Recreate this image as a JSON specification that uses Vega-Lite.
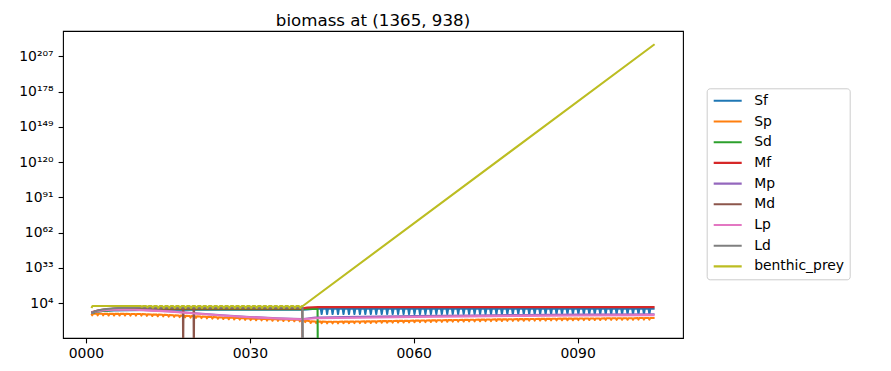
{
"$schema":"https://vega.github.io/schema/vega-lite/v6.json",
"width":620,"height":307,
"autosize":{"type":"none"},
"padding":{"left":63,"top":31,"right":208,"bottom":33},
"background":"white",
"title":{"text":"biomass at (1365, 938)","fontSize":16.67,"font":"DejaVu Sans","fontWeight":"normal","color":"black","anchor":"middle","baseline":"bottom","offset":3.5,"frame":"group","dy":19},
"config":{
"view":{"stroke":"black","strokeWidth":1.1},
"axis":{"domain":false,"grid":false,"tickColor":"black","tickWidth":1.1,"tickSize":4.9,"labelFont":"DejaVu Sans","labelFontSize":13.9,"labelColor":"black"},
"legend":{"labelFont":"DejaVu Sans","labelFontSize":13.9,"labelColor":"black"}
},
"data":{"values":[
{"t":1,"s":"Sf","v":1e-4},{"t":1.5,"s":"Sf","v":6e-4},{"t":2,"s":"Sf","v":1.5e-3},{"t":3,"s":"Sf","v":4e-3},{"t":5,"s":"Sf","v":8e-3},{"t":8,"s":"Sf","v":1.5e-2},{"t":12,"s":"Sf","v":2.5e-2},{"t":20,"s":"Sf","v":3e-2},{"t":39.5,"s":"Sf","v":3e-2},{"t":40.5,"s":"Sf","v":6e-2},{"t":41.5,"s":"Sf","v":0.15},{"t":42.5,"s":"Sf","v":0.2},
{"t":43,"s":"Sf","v":0.2},{"t":43.15,"s":"Sf","v":1e-5},{"t":43.3,"s":"Sf","v":0.2},
{"t":44,"s":"Sf","v":0.2},{"t":44.15,"s":"Sf","v":1e-5},{"t":44.3,"s":"Sf","v":0.2},
{"t":45,"s":"Sf","v":0.2},{"t":45.15,"s":"Sf","v":1e-5},{"t":45.3,"s":"Sf","v":0.2},
{"t":46,"s":"Sf","v":0.2},{"t":46.15,"s":"Sf","v":1e-5},{"t":46.3,"s":"Sf","v":0.2},
{"t":47,"s":"Sf","v":0.2},{"t":47.15,"s":"Sf","v":1e-5},{"t":47.3,"s":"Sf","v":0.2},
{"t":48,"s":"Sf","v":0.2},{"t":48.15,"s":"Sf","v":1e-5},{"t":48.3,"s":"Sf","v":0.2},
{"t":49,"s":"Sf","v":0.2},{"t":49.15,"s":"Sf","v":1e-5},{"t":49.3,"s":"Sf","v":0.2},
{"t":50,"s":"Sf","v":0.2},{"t":50.15,"s":"Sf","v":1e-5},{"t":50.3,"s":"Sf","v":0.2},
{"t":51,"s":"Sf","v":0.2},{"t":51.15,"s":"Sf","v":1e-5},{"t":51.3,"s":"Sf","v":0.2},
{"t":52,"s":"Sf","v":0.2},{"t":52.15,"s":"Sf","v":1e-5},{"t":52.3,"s":"Sf","v":0.2},
{"t":53,"s":"Sf","v":0.2},{"t":53.15,"s":"Sf","v":1e-5},{"t":53.3,"s":"Sf","v":0.2},
{"t":54,"s":"Sf","v":0.2},{"t":54.15,"s":"Sf","v":1e-5},{"t":54.3,"s":"Sf","v":0.2},
{"t":55,"s":"Sf","v":0.2},{"t":55.15,"s":"Sf","v":1e-5},{"t":55.3,"s":"Sf","v":0.2},
{"t":56,"s":"Sf","v":0.2},{"t":56.15,"s":"Sf","v":1e-5},{"t":56.3,"s":"Sf","v":0.2},
{"t":57,"s":"Sf","v":0.2},{"t":57.15,"s":"Sf","v":1e-5},{"t":57.3,"s":"Sf","v":0.2},
{"t":58,"s":"Sf","v":0.2},{"t":58.15,"s":"Sf","v":1e-5},{"t":58.3,"s":"Sf","v":0.2},
{"t":59,"s":"Sf","v":0.2},{"t":59.15,"s":"Sf","v":1e-5},{"t":59.3,"s":"Sf","v":0.2},
{"t":60,"s":"Sf","v":0.2},{"t":60.15,"s":"Sf","v":1e-5},{"t":60.3,"s":"Sf","v":0.2},
{"t":61,"s":"Sf","v":0.2},{"t":61.15,"s":"Sf","v":1e-5},{"t":61.3,"s":"Sf","v":0.2},
{"t":62,"s":"Sf","v":0.2},{"t":62.15,"s":"Sf","v":1e-5},{"t":62.3,"s":"Sf","v":0.2},
{"t":63,"s":"Sf","v":0.2},{"t":63.15,"s":"Sf","v":1e-5},{"t":63.3,"s":"Sf","v":0.2},
{"t":64,"s":"Sf","v":0.2},{"t":64.15,"s":"Sf","v":1e-5},{"t":64.3,"s":"Sf","v":0.2},
{"t":65,"s":"Sf","v":0.2},{"t":65.15,"s":"Sf","v":1e-5},{"t":65.3,"s":"Sf","v":0.2},
{"t":66,"s":"Sf","v":0.2},{"t":66.15,"s":"Sf","v":1e-5},{"t":66.3,"s":"Sf","v":0.2},
{"t":67,"s":"Sf","v":0.2},{"t":67.15,"s":"Sf","v":1e-5},{"t":67.3,"s":"Sf","v":0.2},
{"t":68,"s":"Sf","v":0.2},{"t":68.15,"s":"Sf","v":1e-5},{"t":68.3,"s":"Sf","v":0.2},
{"t":69,"s":"Sf","v":0.2},{"t":69.15,"s":"Sf","v":1e-5},{"t":69.3,"s":"Sf","v":0.2},
{"t":70,"s":"Sf","v":0.2},{"t":70.15,"s":"Sf","v":1e-5},{"t":70.3,"s":"Sf","v":0.2},
{"t":71,"s":"Sf","v":0.2},{"t":71.15,"s":"Sf","v":1e-5},{"t":71.3,"s":"Sf","v":0.2},
{"t":72,"s":"Sf","v":0.2},{"t":72.15,"s":"Sf","v":1e-5},{"t":72.3,"s":"Sf","v":0.2},
{"t":73,"s":"Sf","v":0.2},{"t":73.15,"s":"Sf","v":1e-5},{"t":73.3,"s":"Sf","v":0.2},
{"t":74,"s":"Sf","v":0.2},{"t":74.15,"s":"Sf","v":1e-5},{"t":74.3,"s":"Sf","v":0.2},
{"t":75,"s":"Sf","v":0.2},{"t":75.15,"s":"Sf","v":1e-5},{"t":75.3,"s":"Sf","v":0.2},
{"t":76,"s":"Sf","v":0.2},{"t":76.15,"s":"Sf","v":1e-5},{"t":76.3,"s":"Sf","v":0.2},
{"t":77,"s":"Sf","v":0.2},{"t":77.15,"s":"Sf","v":1e-5},{"t":77.3,"s":"Sf","v":0.2},
{"t":78,"s":"Sf","v":0.2},{"t":78.15,"s":"Sf","v":1e-5},{"t":78.3,"s":"Sf","v":0.2},
{"t":79,"s":"Sf","v":0.2},{"t":79.15,"s":"Sf","v":1e-5},{"t":79.3,"s":"Sf","v":0.2},
{"t":80,"s":"Sf","v":0.2},{"t":80.15,"s":"Sf","v":1e-5},{"t":80.3,"s":"Sf","v":0.2},
{"t":81,"s":"Sf","v":0.2},{"t":81.15,"s":"Sf","v":1e-5},{"t":81.3,"s":"Sf","v":0.2},
{"t":82,"s":"Sf","v":0.2},{"t":82.15,"s":"Sf","v":1e-5},{"t":82.3,"s":"Sf","v":0.2},
{"t":83,"s":"Sf","v":0.2},{"t":83.15,"s":"Sf","v":1e-5},{"t":83.3,"s":"Sf","v":0.2},
{"t":84,"s":"Sf","v":0.2},{"t":84.15,"s":"Sf","v":1e-5},{"t":84.3,"s":"Sf","v":0.2},
{"t":85,"s":"Sf","v":0.2},{"t":85.15,"s":"Sf","v":1e-5},{"t":85.3,"s":"Sf","v":0.2},
{"t":86,"s":"Sf","v":0.2},{"t":86.15,"s":"Sf","v":1e-5},{"t":86.3,"s":"Sf","v":0.2},
{"t":87,"s":"Sf","v":0.2},{"t":87.15,"s":"Sf","v":1e-5},{"t":87.3,"s":"Sf","v":0.2},
{"t":88,"s":"Sf","v":0.2},{"t":88.15,"s":"Sf","v":1e-5},{"t":88.3,"s":"Sf","v":0.2},
{"t":89,"s":"Sf","v":0.2},{"t":89.15,"s":"Sf","v":1e-5},{"t":89.3,"s":"Sf","v":0.2},
{"t":90,"s":"Sf","v":0.2},{"t":90.15,"s":"Sf","v":1e-5},{"t":90.3,"s":"Sf","v":0.2},
{"t":91,"s":"Sf","v":0.2},{"t":91.15,"s":"Sf","v":1e-5},{"t":91.3,"s":"Sf","v":0.2},
{"t":92,"s":"Sf","v":0.2},{"t":92.15,"s":"Sf","v":1e-5},{"t":92.3,"s":"Sf","v":0.2},
{"t":93,"s":"Sf","v":0.2},{"t":93.15,"s":"Sf","v":1e-5},{"t":93.3,"s":"Sf","v":0.2},
{"t":94,"s":"Sf","v":0.2},{"t":94.15,"s":"Sf","v":1e-5},{"t":94.3,"s":"Sf","v":0.2},
{"t":95,"s":"Sf","v":0.2},{"t":95.15,"s":"Sf","v":1e-5},{"t":95.3,"s":"Sf","v":0.2},
{"t":96,"s":"Sf","v":0.2},{"t":96.15,"s":"Sf","v":1e-5},{"t":96.3,"s":"Sf","v":0.2},
{"t":97,"s":"Sf","v":0.2},{"t":97.15,"s":"Sf","v":1e-5},{"t":97.3,"s":"Sf","v":0.2},
{"t":98,"s":"Sf","v":0.2},{"t":98.15,"s":"Sf","v":1e-5},{"t":98.3,"s":"Sf","v":0.2},
{"t":99,"s":"Sf","v":0.2},{"t":99.15,"s":"Sf","v":1e-5},{"t":99.3,"s":"Sf","v":0.2},
{"t":100,"s":"Sf","v":0.2},{"t":100.15,"s":"Sf","v":1e-5},{"t":100.3,"s":"Sf","v":0.2},
{"t":101,"s":"Sf","v":0.2},{"t":101.15,"s":"Sf","v":1e-5},{"t":101.3,"s":"Sf","v":0.2},
{"t":102,"s":"Sf","v":0.2},{"t":102.15,"s":"Sf","v":1e-5},{"t":102.3,"s":"Sf","v":0.2},
{"t":103,"s":"Sf","v":0.2},{"t":103.15,"s":"Sf","v":1e-5},{"t":103.3,"s":"Sf","v":0.2},
{"t":104.1,"s":"Sf","v":0.2},

{"t":1,"s":"Sp","v":1.6e-5},{"t":1.15,"s":"Sp","v":7.9e-7},{"t":1.3,"s":"Sp","v":1.6e-5},
{"t":2,"s":"Sp","v":1.6e-5},{"t":2.15,"s":"Sp","v":7.9e-7},{"t":2.3,"s":"Sp","v":1.6e-5},
{"t":3,"s":"Sp","v":1.6e-5},{"t":3.15,"s":"Sp","v":7.9e-7},{"t":3.3,"s":"Sp","v":1.6e-5},
{"t":4,"s":"Sp","v":1.3e-5},{"t":4.15,"s":"Sp","v":6.3e-7},{"t":4.3,"s":"Sp","v":1.3e-5},
{"t":5,"s":"Sp","v":1.3e-5},{"t":5.15,"s":"Sp","v":6.3e-7},{"t":5.3,"s":"Sp","v":1.3e-5},
{"t":6,"s":"Sp","v":1.3e-5},{"t":6.15,"s":"Sp","v":6.3e-7},{"t":6.3,"s":"Sp","v":1.3e-5},
{"t":7,"s":"Sp","v":1.3e-5},{"t":7.15,"s":"Sp","v":6.3e-7},{"t":7.3,"s":"Sp","v":1.3e-5},
{"t":8,"s":"Sp","v":1e-5},{"t":8.15,"s":"Sp","v":5e-7},{"t":8.3,"s":"Sp","v":1e-5},
{"t":9,"s":"Sp","v":1e-5},{"t":9.15,"s":"Sp","v":5e-7},{"t":9.3,"s":"Sp","v":1e-5},
{"t":10,"s":"Sp","v":1e-5},{"t":10.15,"s":"Sp","v":5e-7},{"t":10.3,"s":"Sp","v":1e-5},
{"t":11,"s":"Sp","v":6.3e-6},{"t":11.15,"s":"Sp","v":3.2e-7},{"t":11.3,"s":"Sp","v":6.3e-6},
{"t":12,"s":"Sp","v":5e-6},{"t":12.15,"s":"Sp","v":2.5e-7},{"t":12.3,"s":"Sp","v":5e-6},
{"t":13,"s":"Sp","v":3.2e-6},{"t":13.15,"s":"Sp","v":1.6e-7},{"t":13.3,"s":"Sp","v":3.2e-6},
{"t":14,"s":"Sp","v":2.5e-6},{"t":14.15,"s":"Sp","v":1.3e-7},{"t":14.3,"s":"Sp","v":2.5e-6},
{"t":15,"s":"Sp","v":1.6e-6},{"t":15.15,"s":"Sp","v":7.9e-8},{"t":15.3,"s":"Sp","v":1.6e-6},
{"t":16,"s":"Sp","v":1e-6},{"t":16.15,"s":"Sp","v":5e-8},{"t":16.3,"s":"Sp","v":1e-6},
{"t":17,"s":"Sp","v":6.3e-7},{"t":17.15,"s":"Sp","v":3.2e-8},{"t":17.3,"s":"Sp","v":6.3e-7},
{"t":18,"s":"Sp","v":4e-7},{"t":18.15,"s":"Sp","v":2e-8},{"t":18.3,"s":"Sp","v":4e-7},
{"t":19,"s":"Sp","v":2.5e-7},{"t":19.15,"s":"Sp","v":1.3e-8},{"t":19.3,"s":"Sp","v":2.5e-7},
{"t":20,"s":"Sp","v":1.6e-7},{"t":20.15,"s":"Sp","v":7.9e-9},{"t":20.3,"s":"Sp","v":1.6e-7},
{"t":21,"s":"Sp","v":1e-7},{"t":21.15,"s":"Sp","v":5e-9},{"t":21.3,"s":"Sp","v":1e-7},
{"t":22,"s":"Sp","v":6.3e-8},{"t":22.15,"s":"Sp","v":3.2e-9},{"t":22.3,"s":"Sp","v":6.3e-8},
{"t":23,"s":"Sp","v":4e-8},{"t":23.15,"s":"Sp","v":2e-9},{"t":23.3,"s":"Sp","v":4e-8},
{"t":24,"s":"Sp","v":2.5e-8},{"t":24.15,"s":"Sp","v":1.3e-9},{"t":24.3,"s":"Sp","v":2.5e-8},
{"t":25,"s":"Sp","v":1.6e-8},{"t":25.15,"s":"Sp","v":7.9e-10},{"t":25.3,"s":"Sp","v":1.6e-8},
{"t":26,"s":"Sp","v":1e-8},{"t":26.15,"s":"Sp","v":5e-10},{"t":26.3,"s":"Sp","v":1e-8},
{"t":27,"s":"Sp","v":7.9e-9},{"t":27.15,"s":"Sp","v":4e-10},{"t":27.3,"s":"Sp","v":7.9e-9},
{"t":28,"s":"Sp","v":5e-9},{"t":28.15,"s":"Sp","v":2.5e-10},{"t":28.3,"s":"Sp","v":5e-9},
{"t":29,"s":"Sp","v":3.2e-9},{"t":29.15,"s":"Sp","v":1.6e-10},{"t":29.3,"s":"Sp","v":3.2e-9},
{"t":30,"s":"Sp","v":2e-9},{"t":30.15,"s":"Sp","v":1e-10},{"t":30.3,"s":"Sp","v":2e-9},
{"t":31,"s":"Sp","v":1.6e-9},{"t":31.15,"s":"Sp","v":7.9e-11},{"t":31.3,"s":"Sp","v":1.6e-9},
{"t":32,"s":"Sp","v":1.3e-9},{"t":32.15,"s":"Sp","v":6.3e-11},{"t":32.3,"s":"Sp","v":1.3e-9},
{"t":33,"s":"Sp","v":7.9e-10},{"t":33.15,"s":"Sp","v":4e-11},{"t":33.3,"s":"Sp","v":7.9e-10},
{"t":34,"s":"Sp","v":6.3e-10},{"t":34.15,"s":"Sp","v":3.2e-11},{"t":34.3,"s":"Sp","v":6.3e-10},
{"t":35,"s":"Sp","v":5e-10},{"t":35.15,"s":"Sp","v":2.5e-11},{"t":35.3,"s":"Sp","v":5e-10},
{"t":36,"s":"Sp","v":4e-10},{"t":36.15,"s":"Sp","v":2e-11},{"t":36.3,"s":"Sp","v":4e-10},
{"t":37,"s":"Sp","v":3.2e-10},{"t":37.15,"s":"Sp","v":1.6e-11},{"t":37.3,"s":"Sp","v":3.2e-10},
{"t":38,"s":"Sp","v":2.5e-10},{"t":38.15,"s":"Sp","v":1.3e-11},{"t":38.3,"s":"Sp","v":2.5e-10},
{"t":39,"s":"Sp","v":2e-10},{"t":39.15,"s":"Sp","v":1e-11},{"t":39.3,"s":"Sp","v":2e-10},
{"t":40,"s":"Sp","v":5e-11},{"t":40.15,"s":"Sp","v":2.5e-12},{"t":40.3,"s":"Sp","v":5e-11},
{"t":41,"s":"Sp","v":1e-11},{"t":41.15,"s":"Sp","v":5e-13},{"t":41.3,"s":"Sp","v":1e-11},
{"t":42,"s":"Sp","v":7.9e-12},{"t":42.15,"s":"Sp","v":4e-13},{"t":42.3,"s":"Sp","v":7.9e-12},
{"t":43,"s":"Sp","v":6.3e-12},{"t":43.15,"s":"Sp","v":3.2e-13},{"t":43.3,"s":"Sp","v":6.3e-12},
{"t":44,"s":"Sp","v":5e-12},{"t":44.15,"s":"Sp","v":2.5e-13},{"t":44.3,"s":"Sp","v":5e-12},
{"t":45,"s":"Sp","v":5e-12},{"t":45.15,"s":"Sp","v":2.5e-13},{"t":45.3,"s":"Sp","v":5e-12},
{"t":46,"s":"Sp","v":5e-12},{"t":46.15,"s":"Sp","v":2.5e-13},{"t":46.3,"s":"Sp","v":5e-12},
{"t":47,"s":"Sp","v":6.3e-12},{"t":47.15,"s":"Sp","v":3.2e-13},{"t":47.3,"s":"Sp","v":6.3e-12},
{"t":48,"s":"Sp","v":6.3e-12},{"t":48.15,"s":"Sp","v":3.2e-13},{"t":48.3,"s":"Sp","v":6.3e-12},
{"t":49,"s":"Sp","v":7.9e-12},{"t":49.15,"s":"Sp","v":4e-13},{"t":49.3,"s":"Sp","v":7.9e-12},
{"t":50,"s":"Sp","v":7.9e-12},{"t":50.15,"s":"Sp","v":4e-13},{"t":50.3,"s":"Sp","v":7.9e-12},
{"t":51,"s":"Sp","v":1e-11},{"t":51.15,"s":"Sp","v":5e-13},{"t":51.3,"s":"Sp","v":1e-11},
{"t":52,"s":"Sp","v":1e-11},{"t":52.15,"s":"Sp","v":5e-13},{"t":52.3,"s":"Sp","v":1e-11},
{"t":53,"s":"Sp","v":1.3e-11},{"t":53.15,"s":"Sp","v":6.3e-13},{"t":53.3,"s":"Sp","v":1.3e-11},
{"t":54,"s":"Sp","v":1.6e-11},{"t":54.15,"s":"Sp","v":7.9e-13},{"t":54.3,"s":"Sp","v":1.6e-11},
{"t":55,"s":"Sp","v":1.6e-11},{"t":55.15,"s":"Sp","v":7.9e-13},{"t":55.3,"s":"Sp","v":1.6e-11},
{"t":56,"s":"Sp","v":2e-11},{"t":56.15,"s":"Sp","v":1e-12},{"t":56.3,"s":"Sp","v":2e-11},
{"t":57,"s":"Sp","v":2.5e-11},{"t":57.15,"s":"Sp","v":1.3e-12},{"t":57.3,"s":"Sp","v":2.5e-11},
{"t":58,"s":"Sp","v":2.5e-11},{"t":58.15,"s":"Sp","v":1.3e-12},{"t":58.3,"s":"Sp","v":2.5e-11},
{"t":59,"s":"Sp","v":3.2e-11},{"t":59.15,"s":"Sp","v":1.6e-12},{"t":59.3,"s":"Sp","v":3.2e-11},
{"t":60,"s":"Sp","v":4e-11},{"t":60.15,"s":"Sp","v":2e-12},{"t":60.3,"s":"Sp","v":4e-11},
{"t":61,"s":"Sp","v":5e-11},{"t":61.15,"s":"Sp","v":2.5e-12},{"t":61.3,"s":"Sp","v":5e-11},
{"t":62,"s":"Sp","v":5e-11},{"t":62.15,"s":"Sp","v":2.5e-12},{"t":62.3,"s":"Sp","v":5e-11},
{"t":63,"s":"Sp","v":6.3e-11},{"t":63.15,"s":"Sp","v":3.2e-12},{"t":63.3,"s":"Sp","v":6.3e-11},
{"t":64,"s":"Sp","v":7.9e-11},{"t":64.15,"s":"Sp","v":4e-12},{"t":64.3,"s":"Sp","v":7.9e-11},
{"t":65,"s":"Sp","v":7.9e-11},{"t":65.15,"s":"Sp","v":4e-12},{"t":65.3,"s":"Sp","v":7.9e-11},
{"t":66,"s":"Sp","v":1e-10},{"t":66.15,"s":"Sp","v":5e-12},{"t":66.3,"s":"Sp","v":1e-10},
{"t":67,"s":"Sp","v":1.3e-10},{"t":67.15,"s":"Sp","v":6.3e-12},{"t":67.3,"s":"Sp","v":1.3e-10},
{"t":68,"s":"Sp","v":1.3e-10},{"t":68.15,"s":"Sp","v":6.3e-12},{"t":68.3,"s":"Sp","v":1.3e-10},
{"t":69,"s":"Sp","v":1.6e-10},{"t":69.15,"s":"Sp","v":7.9e-12},{"t":69.3,"s":"Sp","v":1.6e-10},
{"t":70,"s":"Sp","v":2e-10},{"t":70.15,"s":"Sp","v":1e-11},{"t":70.3,"s":"Sp","v":2e-10},
{"t":71,"s":"Sp","v":2e-10},{"t":71.15,"s":"Sp","v":1e-11},{"t":71.3,"s":"Sp","v":2e-10},
{"t":72,"s":"Sp","v":2.5e-10},{"t":72.15,"s":"Sp","v":1.3e-11},{"t":72.3,"s":"Sp","v":2.5e-10},
{"t":73,"s":"Sp","v":3.2e-10},{"t":73.15,"s":"Sp","v":1.6e-11},{"t":73.3,"s":"Sp","v":3.2e-10},
{"t":74,"s":"Sp","v":3.2e-10},{"t":74.15,"s":"Sp","v":1.6e-11},{"t":74.3,"s":"Sp","v":3.2e-10},
{"t":75,"s":"Sp","v":4e-10},{"t":75.15,"s":"Sp","v":2e-11},{"t":75.3,"s":"Sp","v":4e-10},
{"t":76,"s":"Sp","v":4e-10},{"t":76.15,"s":"Sp","v":2e-11},{"t":76.3,"s":"Sp","v":4e-10},
{"t":77,"s":"Sp","v":5e-10},{"t":77.15,"s":"Sp","v":2.5e-11},{"t":77.3,"s":"Sp","v":5e-10},
{"t":78,"s":"Sp","v":5e-10},{"t":78.15,"s":"Sp","v":2.5e-11},{"t":78.3,"s":"Sp","v":5e-10},
{"t":79,"s":"Sp","v":6.3e-10},{"t":79.15,"s":"Sp","v":3.2e-11},{"t":79.3,"s":"Sp","v":6.3e-10},
{"t":80,"s":"Sp","v":6.3e-10},{"t":80.15,"s":"Sp","v":3.2e-11},{"t":80.3,"s":"Sp","v":6.3e-10},
{"t":81,"s":"Sp","v":7.9e-10},{"t":81.15,"s":"Sp","v":4e-11},{"t":81.3,"s":"Sp","v":7.9e-10},
{"t":82,"s":"Sp","v":7.9e-10},{"t":82.15,"s":"Sp","v":4e-11},{"t":82.3,"s":"Sp","v":7.9e-10},
{"t":83,"s":"Sp","v":1e-9},{"t":83.15,"s":"Sp","v":5e-11},{"t":83.3,"s":"Sp","v":1e-9},
{"t":84,"s":"Sp","v":1e-9},{"t":84.15,"s":"Sp","v":5e-11},{"t":84.3,"s":"Sp","v":1e-9},
{"t":85,"s":"Sp","v":1.3e-9},{"t":85.15,"s":"Sp","v":6.3e-11},{"t":85.3,"s":"Sp","v":1.3e-9},
{"t":86,"s":"Sp","v":1.3e-9},{"t":86.15,"s":"Sp","v":6.3e-11},{"t":86.3,"s":"Sp","v":1.3e-9},
{"t":87,"s":"Sp","v":1.6e-9},{"t":87.15,"s":"Sp","v":7.9e-11},{"t":87.3,"s":"Sp","v":1.6e-9},
{"t":88,"s":"Sp","v":1.6e-9},{"t":88.15,"s":"Sp","v":7.9e-11},{"t":88.3,"s":"Sp","v":1.6e-9},
{"t":89,"s":"Sp","v":1.6e-9},{"t":89.15,"s":"Sp","v":7.9e-11},{"t":89.3,"s":"Sp","v":1.6e-9},
{"t":90,"s":"Sp","v":2e-9},{"t":90.15,"s":"Sp","v":1e-10},{"t":90.3,"s":"Sp","v":2e-9},
{"t":91,"s":"Sp","v":2e-9},{"t":91.15,"s":"Sp","v":1e-10},{"t":91.3,"s":"Sp","v":2e-9},
{"t":92,"s":"Sp","v":2.5e-9},{"t":92.15,"s":"Sp","v":1.3e-10},{"t":92.3,"s":"Sp","v":2.5e-9},
{"t":93,"s":"Sp","v":2.5e-9},{"t":93.15,"s":"Sp","v":1.3e-10},{"t":93.3,"s":"Sp","v":2.5e-9},
{"t":94,"s":"Sp","v":2.5e-9},{"t":94.15,"s":"Sp","v":1.3e-10},{"t":94.3,"s":"Sp","v":2.5e-9},
{"t":95,"s":"Sp","v":3.2e-9},{"t":95.15,"s":"Sp","v":1.6e-10},{"t":95.3,"s":"Sp","v":3.2e-9},
{"t":96,"s":"Sp","v":3.2e-9},{"t":96.15,"s":"Sp","v":1.6e-10},{"t":96.3,"s":"Sp","v":3.2e-9},
{"t":97,"s":"Sp","v":3.2e-9},{"t":97.15,"s":"Sp","v":1.6e-10},{"t":97.3,"s":"Sp","v":3.2e-9},
{"t":98,"s":"Sp","v":4e-9},{"t":98.15,"s":"Sp","v":2e-10},{"t":98.3,"s":"Sp","v":4e-9},
{"t":99,"s":"Sp","v":4e-9},{"t":99.15,"s":"Sp","v":2e-10},{"t":99.3,"s":"Sp","v":4e-9},
{"t":100,"s":"Sp","v":4e-9},{"t":100.15,"s":"Sp","v":2e-10},{"t":100.3,"s":"Sp","v":4e-9},
{"t":101,"s":"Sp","v":5e-9},{"t":101.15,"s":"Sp","v":2.5e-10},{"t":101.3,"s":"Sp","v":5e-9},
{"t":102,"s":"Sp","v":5e-9},{"t":102.15,"s":"Sp","v":2.5e-10},{"t":102.3,"s":"Sp","v":5e-9},
{"t":103,"s":"Sp","v":5e-9},{"t":103.15,"s":"Sp","v":2.5e-10},{"t":103.3,"s":"Sp","v":5e-9},
{"t":104,"s":"Sp","v":6.3e-9},{"t":104.1,"s":"Sp","v":6.3e-9},

{"t":1,"s":"Sd","v":4e-5},{"t":2,"s":"Sd","v":8e-4},{"t":3,"s":"Sd","v":4e-3},{"t":5,"s":"Sd","v":2e-2},{"t":8,"s":"Sd","v":6e-2},{"t":12,"s":"Sd","v":0.1},{"t":39.5,"s":"Sd","v":0.1},{"t":40.5,"s":"Sd","v":0.13},{"t":42.4,"s":"Sd","v":0.13},{"t":42.45,"s":"Sd","v":1e-40},{"t":104.1,"s":"Sd","v":1e-40},

{"t":1,"s":"Mf","v":3e-4},{"t":2,"s":"Mf","v":5e-3},{"t":3,"s":"Mf","v":3e-2},{"t":5,"s":"Mf","v":0.15},{"t":8,"s":"Mf","v":0.3},{"t":12,"s":"Mf","v":0.35},{"t":39.5,"s":"Mf","v":0.35},{"t":40.5,"s":"Mf","v":2},{"t":41.5,"s":"Mf","v":4},{"t":42.5,"s":"Mf","v":5},{"t":104.1,"s":"Mf","v":5},

{"t":1,"s":"Mp","v":1.3e-4},{"t":2,"s":"Mp","v":2.5e-3},{"t":3,"s":"Mp","v":1.6e-2},{"t":4,"s":"Mp","v":4e-2},{"t":6,"s":"Mp","v":7.9e-2},{"t":9,"s":"Mp","v":5e-2},{"t":12,"s":"Mp","v":1e-2},{"t":15,"s":"Mp","v":2.5e-3},{"t":20,"s":"Mp","v":4e-5},{"t":25,"s":"Mp","v":1e-6},{"t":30,"s":"Mp","v":4e-8},{"t":35,"s":"Mp","v":4e-9},{"t":39.5,"s":"Mp","v":6.3e-10},{"t":40.5,"s":"Mp","v":2.5e-9},{"t":42,"s":"Mp","v":1.6e-8},{"t":50,"s":"Mp","v":5e-8},{"t":60,"s":"Mp","v":2e-7},{"t":70,"s":"Mp","v":6.3e-7},{"t":80,"s":"Mp","v":1.6e-6},{"t":90,"s":"Mp","v":3.2e-6},{"t":104.1,"s":"Mp","v":6.3e-6},

{"t":1,"s":"Md","v":1e-4},{"t":2,"s":"Md","v":3e-3},{"t":3,"s":"Md","v":2e-2},{"t":5,"s":"Md","v":0.2},{"t":8,"s":"Md","v":0.8},{"t":17.75,"s":"Md","v":1},{"t":17.8,"s":"Md","v":1e-40},{"t":17.85,"s":"Md","v":1},{"t":19.7,"s":"Md","v":1},{"t":19.75,"s":"Md","v":1e-40},{"t":19.8,"s":"Md","v":1},{"t":39.6,"s":"Md","v":1},{"t":39.65,"s":"Md","v":1e-40},{"t":104.1,"s":"Md","v":1e-40},

{"t":1,"s":"Lp","v":1e-4},{"t":2,"s":"Lp","v":1.6e-3},{"t":3,"s":"Lp","v":1e-2},{"t":4,"s":"Lp","v":2.5e-2},{"t":6,"s":"Lp","v":5e-2},{"t":9,"s":"Lp","v":3.2e-2},{"t":12,"s":"Lp","v":6.3e-3},{"t":15,"s":"Lp","v":1.6e-3},{"t":20,"s":"Lp","v":2.5e-5},{"t":25,"s":"Lp","v":6.3e-7},{"t":30,"s":"Lp","v":2.5e-8},{"t":35,"s":"Lp","v":2.5e-9},{"t":39.5,"s":"Lp","v":4e-10},{"t":40.5,"s":"Lp","v":1e-9},{"t":42,"s":"Lp","v":3.2e-9},{"t":50,"s":"Lp","v":1e-8},{"t":60,"s":"Lp","v":4e-8},{"t":70,"s":"Lp","v":1.3e-7},{"t":80,"s":"Lp","v":3.2e-7},{"t":90,"s":"Lp","v":6.3e-7},{"t":104.1,"s":"Lp","v":1.3e-6},

{"t":1,"s":"Ld","v":6.3e-5},{"t":2,"s":"Ld","v":5e-3},{"t":3,"s":"Ld","v":5e-2},{"t":5,"s":"Ld","v":0.5},{"t":7,"s":"Ld","v":1.6},{"t":10,"s":"Ld","v":2.5},{"t":39.65,"s":"Ld","v":2.5},{"t":39.7,"s":"Ld","v":1e-40},{"t":104.1,"s":"Ld","v":1e-40},

{"t":1,"s":"benthic_prey","v":0.8},{"t":1.2,"s":"benthic_prey","v":40},
{"t":10,"s":"benthic_prey","v":40},{"t":10.25,"s":"benthic_prey","v":10},{"t":10.5,"s":"benthic_prey","v":40},
{"t":11,"s":"benthic_prey","v":40},{"t":11.25,"s":"benthic_prey","v":5},{"t":11.5,"s":"benthic_prey","v":40},
{"t":12,"s":"benthic_prey","v":40},{"t":12.25,"s":"benthic_prey","v":2},{"t":12.5,"s":"benthic_prey","v":40},
{"t":13,"s":"benthic_prey","v":40},{"t":13.25,"s":"benthic_prey","v":1},{"t":13.5,"s":"benthic_prey","v":40},
{"t":14,"s":"benthic_prey","v":40},{"t":14.25,"s":"benthic_prey","v":1},{"t":14.5,"s":"benthic_prey","v":40},
{"t":15,"s":"benthic_prey","v":40},{"t":15.25,"s":"benthic_prey","v":1},{"t":15.5,"s":"benthic_prey","v":40},
{"t":16,"s":"benthic_prey","v":40},{"t":16.25,"s":"benthic_prey","v":1},{"t":16.5,"s":"benthic_prey","v":40},
{"t":17,"s":"benthic_prey","v":40},{"t":17.25,"s":"benthic_prey","v":1},{"t":17.5,"s":"benthic_prey","v":40},
{"t":18,"s":"benthic_prey","v":40},{"t":18.25,"s":"benthic_prey","v":1},{"t":18.5,"s":"benthic_prey","v":40},
{"t":19,"s":"benthic_prey","v":40},{"t":19.25,"s":"benthic_prey","v":1},{"t":19.5,"s":"benthic_prey","v":40},
{"t":20,"s":"benthic_prey","v":40},{"t":20.25,"s":"benthic_prey","v":1},{"t":20.5,"s":"benthic_prey","v":40},
{"t":21,"s":"benthic_prey","v":40},{"t":21.25,"s":"benthic_prey","v":1},{"t":21.5,"s":"benthic_prey","v":40},
{"t":22,"s":"benthic_prey","v":40},{"t":22.25,"s":"benthic_prey","v":1},{"t":22.5,"s":"benthic_prey","v":40},
{"t":23,"s":"benthic_prey","v":40},{"t":23.25,"s":"benthic_prey","v":1},{"t":23.5,"s":"benthic_prey","v":40},
{"t":24,"s":"benthic_prey","v":40},{"t":24.25,"s":"benthic_prey","v":1},{"t":24.5,"s":"benthic_prey","v":40},
{"t":25,"s":"benthic_prey","v":40},{"t":25.25,"s":"benthic_prey","v":1},{"t":25.5,"s":"benthic_prey","v":40},
{"t":26,"s":"benthic_prey","v":40},{"t":26.25,"s":"benthic_prey","v":1},{"t":26.5,"s":"benthic_prey","v":40},
{"t":27,"s":"benthic_prey","v":40},{"t":27.25,"s":"benthic_prey","v":1},{"t":27.5,"s":"benthic_prey","v":40},
{"t":28,"s":"benthic_prey","v":40},{"t":28.25,"s":"benthic_prey","v":1},{"t":28.5,"s":"benthic_prey","v":40},
{"t":29,"s":"benthic_prey","v":40},{"t":29.25,"s":"benthic_prey","v":1},{"t":29.5,"s":"benthic_prey","v":40},
{"t":30,"s":"benthic_prey","v":40},{"t":30.25,"s":"benthic_prey","v":1},{"t":30.5,"s":"benthic_prey","v":40},
{"t":31,"s":"benthic_prey","v":40},{"t":31.25,"s":"benthic_prey","v":1},{"t":31.5,"s":"benthic_prey","v":40},
{"t":32,"s":"benthic_prey","v":40},{"t":32.25,"s":"benthic_prey","v":1},{"t":32.5,"s":"benthic_prey","v":40},
{"t":33,"s":"benthic_prey","v":40},{"t":33.25,"s":"benthic_prey","v":1},{"t":33.5,"s":"benthic_prey","v":40},
{"t":34,"s":"benthic_prey","v":40},{"t":34.25,"s":"benthic_prey","v":1},{"t":34.5,"s":"benthic_prey","v":40},
{"t":35,"s":"benthic_prey","v":40},{"t":35.25,"s":"benthic_prey","v":1},{"t":35.5,"s":"benthic_prey","v":40},
{"t":36,"s":"benthic_prey","v":40},{"t":36.25,"s":"benthic_prey","v":1},{"t":36.5,"s":"benthic_prey","v":40},
{"t":37,"s":"benthic_prey","v":40},{"t":37.25,"s":"benthic_prey","v":1},{"t":37.5,"s":"benthic_prey","v":40},
{"t":38,"s":"benthic_prey","v":40},{"t":38.25,"s":"benthic_prey","v":1},{"t":38.5,"s":"benthic_prey","v":40},
{"t":39,"s":"benthic_prey","v":40},{"t":39.25,"s":"benthic_prey","v":1},{"t":39.5,"s":"benthic_prey","v":40},
{"t":39.7,"s":"benthic_prey","v":40},{"t":104.1,"s":"benthic_prey","v":8e216}
]},
"mark":{"type":"line","clip":true,"strokeWidth":2.08,"strokeJoin":"round"},
"encoding":{
"x":{"field":"t","type":"quantitative","scale":{"domain":[-4.2,109.3],"nice":false,"zero":false},
"axis":{"values":[0,30,60,90],"format":"04d","title":null,"labelPadding":4,"labelFlush":false}},
"y":{"field":"v","type":"quantitative","scale":{"type":"log","domain":[2e-25,6.3e227],"nice":false},
"axis":{"values":[1e4,1e33,1e62,1e91,1e120,1e149,1e178,1e207],"title":null,"labelPadding":5,
"labelExpr":"'10' + replace(replace(replace(replace(replace(replace(replace(replace(replace(replace('' + round(log(datum.value) / LN10), regexp('0','g'), '⁰'), regexp('1','g'), '¹'), regexp('2','g'), '²'), regexp('3','g'), '³'), regexp('4','g'), '⁴'), regexp('5','g'), '⁵'), regexp('6','g'), '⁶'), regexp('7','g'), '⁷'), regexp('8','g'), '⁸'), regexp('9','g'), '⁹')"}},
"color":{"field":"s","type":"nominal",
"scale":{"domain":["Sf","Sp","Sd","Mf","Mp","Md","Lp","Ld","benthic_prey"],"range":["#1f77b4","#ff7f0e","#2ca02c","#d62728","#9467bd","#8c564b","#e377c2","#7f7f7f","#bcbd22"]},
"legend":{"title":null,"orient":"none","legendX":643.7,"legendY":57.3,"symbolType":"stroke","symbolStrokeWidth":2.08,"symbolSize":784,"clipHeight":14,"labelOffset":11,"rowPadding":6.7,"padding":5.5,"strokeColor":"#cccccc","cornerRadius":3,"fillColor":"white"}}
}
}
